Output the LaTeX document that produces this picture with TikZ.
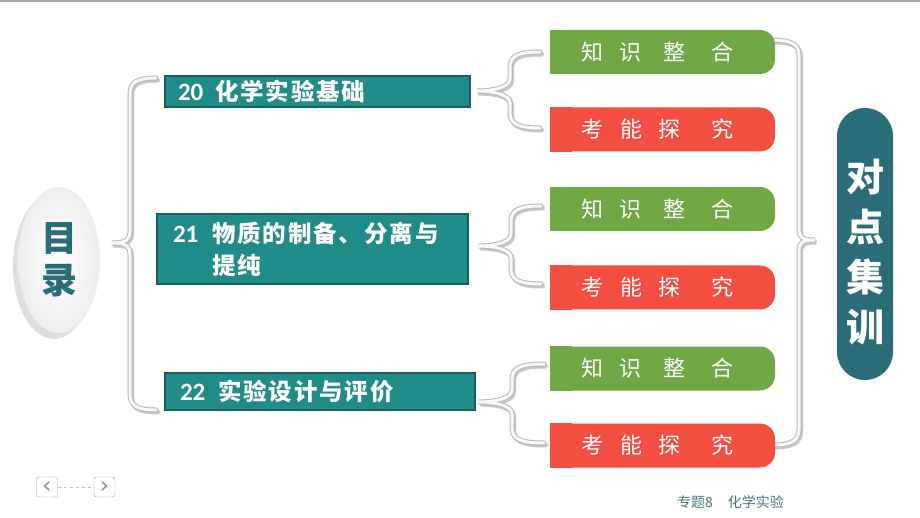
\documentclass[tikz,border=0pt]{standalone}
\usepackage{fontspec}
\newfontfamily\cjk{Noto Sans CJK SC}
\newfontfamily\cjkwide[LetterSpace=8]{Noto Sans CJK SC}
\newfontfamily\num{Carlito}
\newfontfamily\dvs{DejaVu Sans}
\usetikzlibrary{shadows,calc,shapes.geometric}
\definecolor{boxteal}{HTML}{1F8C89}
\definecolor{boxedge}{HTML}{175E5C}
\definecolor{pillgreen}{HTML}{70A846}
\definecolor{pillred}{HTML}{F24E41}
\definecolor{darkteal}{HTML}{2B6C79}
\definecolor{topline}{HTML}{9DA9B3}
\definecolor{foot}{HTML}{4A7680}
\tikzset{
  tbox/.style={draw=boxedge, line width=1.4pt, fill=boxteal, text=white, align=left,
    inner sep=0pt, font=\cjkwide\bfseries\fontsize{23.5}{32}\selectfont},
  pill/.style={rounded corners=15pt, minimum width=225pt, minimum height=44pt, inner sep=0pt,
    text=white, font=\cjk\fontsize{22}{26}\selectfont},
  braceshadow/.style={draw=black!22, line width=5pt, line cap=round, shift={(1.5,2)}},
  bracebase/.style={draw=gray!55, line width=5pt, line cap=round},
  bracetop/.style={draw=gray!5, line width=3pt, line cap=round},
  navbtn/.style={draw=gray!75, rounded corners=2.5pt, minimum width=21pt, minimum height=20pt,
    inner sep=0pt, text=gray!85, font=\dvs\fontsize{24}{24}\selectfont},
}
% #1 end x, #2 stem x, #3 tip x, #4 top y, #5 tip y, #6 bottom y, #7 direction
\newcommand{\mybrc}[7]{%
  \foreach \st in {braceshadow,bracebase,bracetop}
    \draw[\st] (#1,#4) .. controls (#2+6*#7,#4) and (#2,#4+5) .. (#2,#4+16)
      -- (#2,#5-12) .. controls (#2,#5-3) and (#3+14*#7,#5) .. (#3,#5)
      .. controls (#3+14*#7,#5) and (#2,#5+3) .. (#2,#5+12)
      -- (#2,#6-16) .. controls (#2,#6-5) and (#2+6*#7,#6) .. (#1,#6);%
}
\newcommand{\bnum}[2]{\makebox[#1][l]{\num\bfseries\fontsize{25}{32}\selectfont #2}}
\begin{document}
\begin{tikzpicture}[x=1pt,y=-1pt]
\useasboundingbox[fill=white] (0,0) rectangle (920,518);
\draw[topline, line width=2pt] (0,1) -- (920,1);

% left ellipse
\node[ellipse, minimum width=82pt, minimum height=146pt, inner sep=0pt,
  shading=radial, inner color=white, outer color=gray!14,
  drop shadow={shadow xshift=-5pt, shadow yshift=-6pt, opacity=0.28, fill=gray!90}] (ell) at (59,260) {};
\node[text=darkteal, align=center, font=\cjk\bfseries\fontsize{36}{42}\selectfont] (elltxt) at (ell.center) {目\\录};

% left brace
\mybrc{156}{130}{112}{78}{243}{410}{1}

% boxes
\node[tbox, minimum width=305pt, minimum height=31pt, text width=279pt] (b1) at (317.5,91.5)
  {\bnum{37pt}{20}化学实验基础};
\node[tbox, minimum width=311pt, minimum height=70pt, text width=279pt] (b2) at (312.5,249)
  {\bnum{39pt}{21}物质的制备、分离与\\\makebox[39pt]{}提纯};
\node[tbox, minimum width=310pt, minimum height=37pt, text width=280pt] (b3) at (320,391.5)
  {\bnum{38pt}{22}实验设计与评价};

% small braces
\mybrc{540}{510}{477}{52}{91}{128}{1}
\mybrc{541}{511}{479}{206}{246}{284}{1}
\mybrc{544}{512}{479}{364}{402}{443}{1}

% right brace
\mybrc{771}{799}{815}{40}{240}{445}{-1}

% pills
\newcommand{\greentext}{知\hspace{17pt}识\hspace{21pt}整\hspace{27pt}合}
\newcommand{\redtext}{考\hspace{17pt}能\hspace{16pt}探\hspace{31pt}究}
\foreach \nm/\col/\yy/\txt in {g1/pillgreen/52/\greentext, r1/pillred/129.5/\redtext,
    g2/pillgreen/209/\greentext, r2/pillred/287.5/\redtext,
    g3/pillgreen/368.5/\greentext, r3/pillred/445.5/\redtext}{
  \node[pill, fill=\col] (\nm) at (662.5,\yy) {};
  \fill[\col] (\nm.north west) rectangle ([xshift=22pt]\nm.south west);
  \node[text=white, font=\cjk\fontsize{22}{26}\selectfont, inner sep=0pt] (\nm t) at ([xshift=-5pt]\nm.center) {\txt};
}

% right pill
\node[fill=darkteal, rounded corners=28pt, minimum width=56pt, minimum height=272pt, inner sep=0pt] (dp) at (865,244) {};
\node[text=white, align=center, font=\cjk\bfseries\fontsize{38}{50}\selectfont] (dpt) at (865,252) {对\\点\\集\\训};

% navigation
\node[navbtn] (prev) at (47,487) {‹};
\node[navbtn] (next) at (104.5,487) {›};
\draw[gray!45, dashed, line width=0.8pt] (prev.east) -- (next.west);

% footer
\node[text=foot, font=\cjk\fontsize{14}{16}\selectfont, anchor=west, inner sep=0pt] (footer) at (677,502) {专题8\hspace{15pt}化学实验};
\end{tikzpicture}
\end{document}
